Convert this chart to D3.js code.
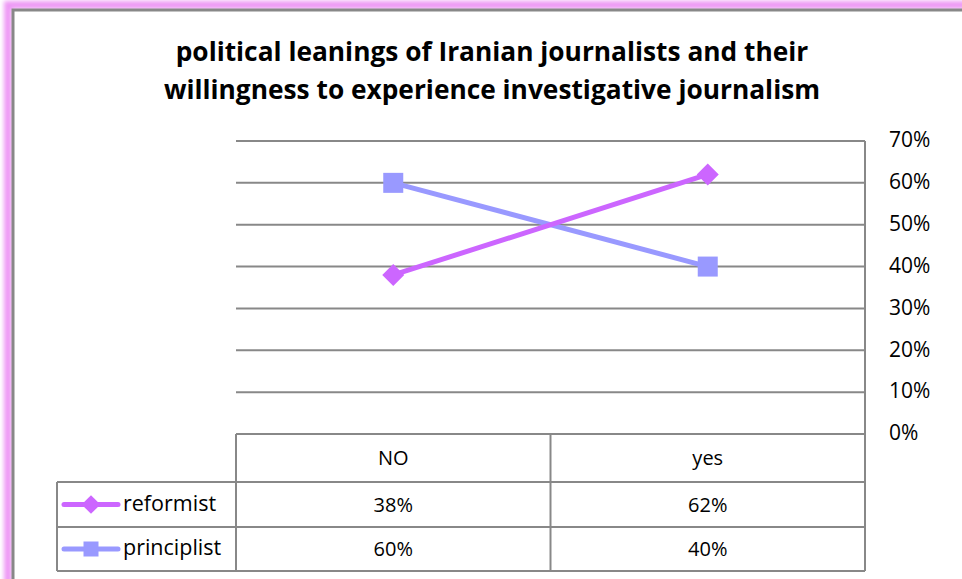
<!DOCTYPE html>
<html>
<head>
<meta charset="utf-8">
<script src="https://cdn.jsdelivr.net/npm/d3@7"></script>
<style>
  body { margin: 0; background: #fff; }
  svg { display: block; }
  text { font-family: "Open Sans", "Noto Sans", sans-serif; }
</style>
</head>
<body>
<svg id="chart"></svg>
<script>
// data
var categories = ["NO", "yes"];
var seriesNames = ["reformist", "principlist"];
var reformist = [38, 62];
var principlist = [60, 40];
var yTicks = [0, 10, 20, 30, 40, 50, 60, 70];
var titleLines = ["political leanings of Iranian journalists and their",
                  "willingness to experience investigative journalism"];

var W = 962, H = 579;
var svg = d3.select("#chart").attr("width", W).attr("height", H);

// pink glow frame
var defs = svg.append("defs");
defs.append("filter").attr("id", "glow")
    .attr("x", "-5%").attr("y", "-5%").attr("width", "110%").attr("height", "110%")
    .append("feGaussianBlur").attr("stdDeviation", 2);

svg.append("rect")
    .attr("x", 8).attr("y", 5).attr("width", W + 40).attr("height", H + 40)
    .attr("fill", "none").attr("stroke", "#ee99f5").attr("stroke-width", 8)
    .attr("filter", "url(#glow)");
svg.append("rect")
    .attr("x", 13).attr("y", 10).attr("width", W + 40).attr("height", H + 40)
    .attr("fill", "#fff").attr("stroke", "#888").attr("stroke-width", 3);

// title
svg.append("g").selectAll("text")
    .data(titleLines).enter().append("text")
    .attr("x", 492)
    .attr("y", function(d, i) { return 61 + i * 38; })
    .attr("text-anchor", "middle")
    .attr("font-size", 26.3)
    .attr("font-weight", "bold")
    .attr("fill", "#000")
    .text(function(d) { return d; });

// scales
var plotLeft = 236, plotRight = 865, plotTop = 141, plotBottom = 434;
var x = d3.scaleBand().domain(categories).range([plotLeft, plotRight]);
var y = d3.scaleLinear().domain([0, 70]).range([plotBottom, plotTop]);

var gray = "#888";

// grid lines
svg.append("g").selectAll("line")
    .data(yTicks).enter().append("line")
    .attr("x1", plotLeft).attr("x2", plotRight)
    .attr("y1", function(d) { return y(d); })
    .attr("y2", function(d) { return y(d); })
    .attr("stroke", gray).attr("stroke-width", 2);

// right axis line
svg.append("line")
    .attr("x1", plotRight).attr("x2", plotRight)
    .attr("y1", plotTop).attr("y2", 571)
    .attr("stroke", gray).attr("stroke-width", 2);

// right axis labels
svg.append("g").selectAll("text")
    .data(yTicks).enter().append("text")
    .attr("x", 889)
    .attr("y", function(d) { return y(d); })
    .attr("dy", "0.3em")
    .attr("font-size", 21)
    .attr("fill", "#000")
    .text(function(d) { return d + "%"; });

// data table
var rowY = [plotBottom, 482, 527, 571];
var tableLeft = 57;
var tbl = svg.append("g").attr("stroke", gray).attr("stroke-width", 2);
rowY.slice(1).forEach(function(yy) {
    tbl.append("line").attr("x1", tableLeft).attr("x2", plotRight).attr("y1", yy).attr("y2", yy);
});
tbl.append("line").attr("x1", tableLeft).attr("x2", tableLeft).attr("y1", rowY[1]).attr("y2", rowY[3]);
tbl.append("line").attr("x1", plotLeft).attr("x2", plotLeft).attr("y1", plotBottom).attr("y2", rowY[3]);
tbl.append("line").attr("x1", x("yes")).attr("x2", x("yes")).attr("y1", plotBottom).attr("y2", rowY[3]);

// header row text
svg.append("g").selectAll("text")
    .data(categories).enter().append("text")
    .attr("x", function(d) { return x(d) + x.bandwidth() / 2; })
    .attr("y", (rowY[0] + rowY[1]) / 2)
    .attr("dy", "0.35em")
    .attr("text-anchor", "middle")
    .attr("font-size", 20)
    .text(function(d) { return d; });

var series = [
    { name: seriesNames[0], values: reformist, color: "#cc66ff", marker: "diamond" },
    { name: seriesNames[1], values: principlist, color: "#9999ff", marker: "square" }
];

function drawMarker(g, s, cx, cy, scale) {
    if (s.marker === "diamond") {
        var r = 11 * scale;
        g.append("path")
            .attr("d", "M" + cx + "," + (cy - r) + "L" + (cx + r) + "," + cy +
                       "L" + cx + "," + (cy + r) + "L" + (cx - r) + "," + cy + "Z")
            .attr("fill", s.color);
    } else {
        var h = 10 * scale;
        g.append("rect")
            .attr("x", cx - h).attr("y", cy - h)
            .attr("width", 2 * h).attr("height", 2 * h)
            .attr("fill", s.color);
    }
}

series.forEach(function(s, si) {
    var ry = (rowY[si + 1] + rowY[si + 2]) / 2;
    // value cells
    categories.forEach(function(c, ci) {
        svg.append("text")
            .attr("x", x(c) + x.bandwidth() / 2)
            .attr("y", ry)
            .attr("dy", "0.35em")
            .attr("text-anchor", "middle")
            .attr("font-size", 20)
            .text(s.values[ci] + "%");
    });
    // legend key
    var lg = svg.append("g");
    lg.append("line")
        .attr("x1", 64).attr("x2", 118).attr("y1", ry).attr("y2", ry)
        .attr("stroke", s.color).attr("stroke-width", 5).attr("stroke-linecap", "round");
    drawMarker(lg, s, 91, ry, s.marker === "diamond" ? 0.85 : 0.75);
    lg.append("text")
        .attr("x", 123).attr("y", ry)
        .attr("dy", "0.3em")
        .attr("font-size", 21.5)
        .text(s.name);
});

// lines and markers (principlist first so reformist sits on top)
var line = d3.line()
    .x(function(d, i) { return x(categories[i]) + x.bandwidth() / 2; })
    .y(function(d) { return y(d); });

series.slice().reverse().forEach(function(s) {
    svg.append("path")
        .datum(s.values)
        .attr("d", line)
        .attr("fill", "none")
        .attr("stroke", s.color)
        .attr("stroke-width", 5);
});
series.slice().reverse().forEach(function(s) {
    var g = svg.append("g");
    s.values.forEach(function(v, i) {
        drawMarker(g, s, x(categories[i]) + x.bandwidth() / 2, y(v), 1);
    });
});
</script>
</body>
</html>
